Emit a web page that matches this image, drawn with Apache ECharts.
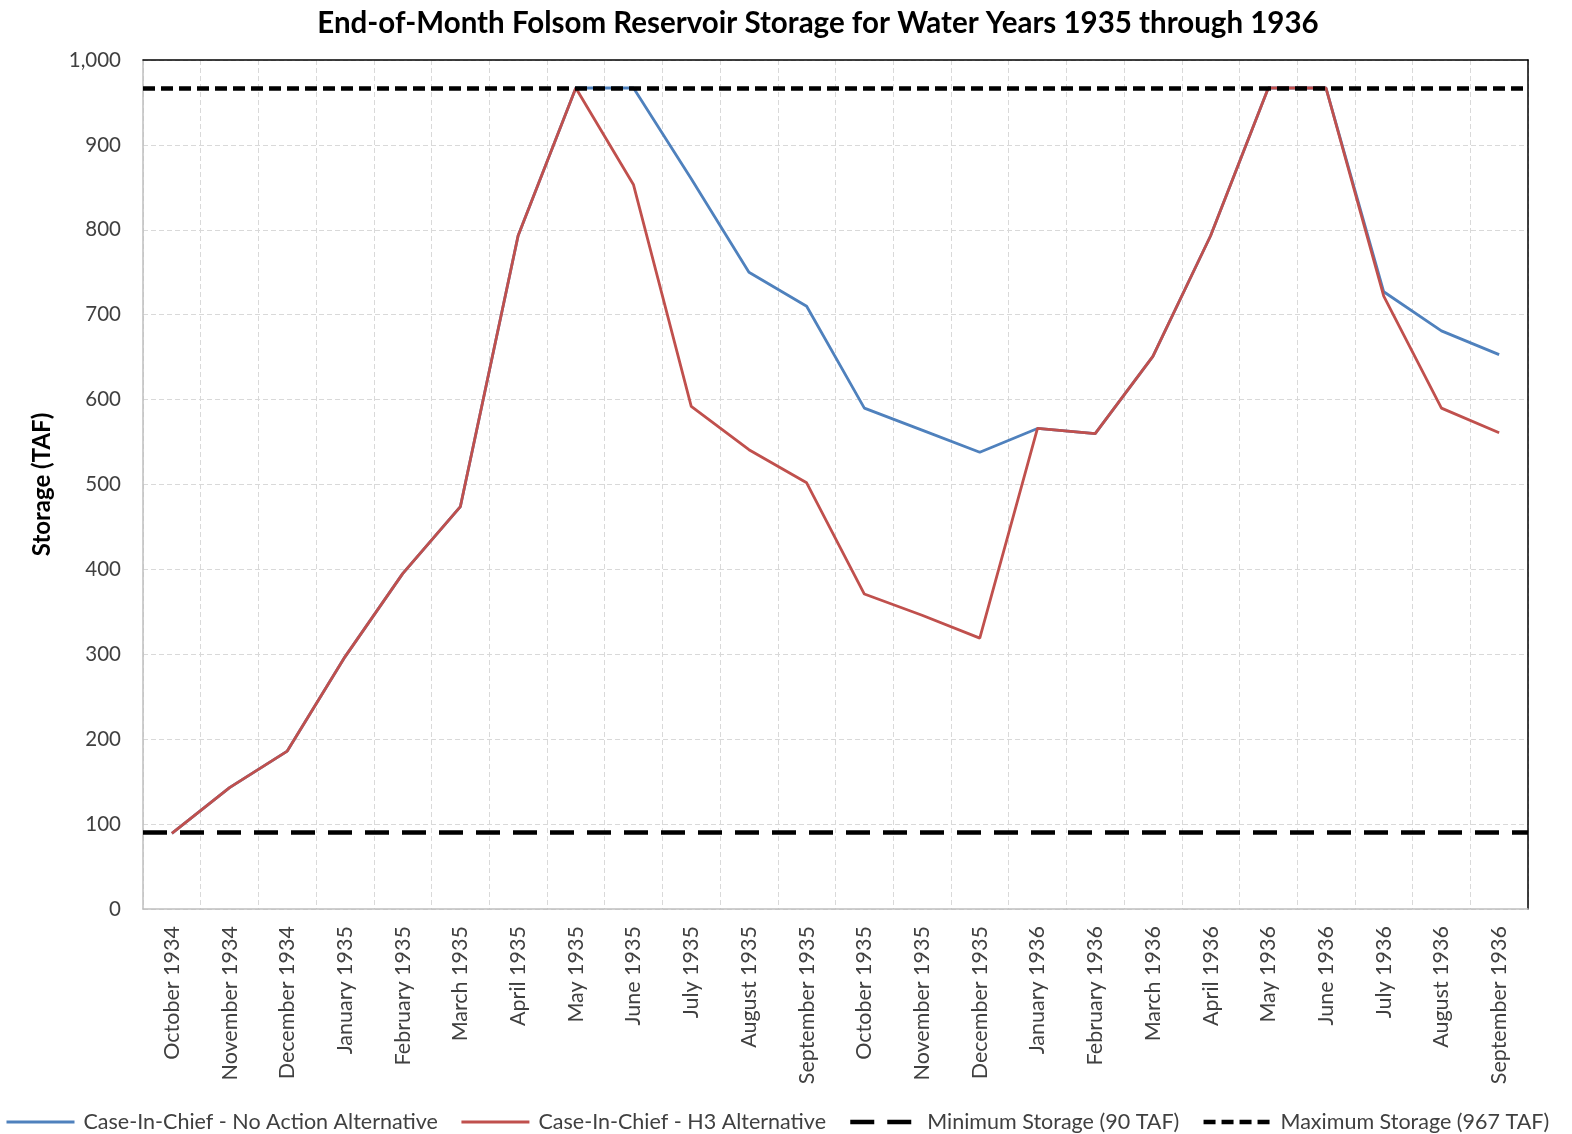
<!DOCTYPE html>
<html>
<head>
<meta charset="utf-8">
<script src="https://cdn.jsdelivr.net/npm/echarts@6/dist/echarts.min.js"></script>
<style>
  html, body { margin: 0; padding: 0; background: #fff; }
  #chartArea { width: 1572px; height: 1134px; }
</style>
</head>
<body>
<div id="chartArea"></div>
<script>
var months = [
    'October 1934', 'November 1934', 'December 1934', 'January 1935', 'February 1935', 'March 1935',
    'April 1935', 'May 1935', 'June 1935', 'July 1935', 'August 1935', 'September 1935',
    'October 1935', 'November 1935', 'December 1935', 'January 1936', 'February 1936', 'March 1936',
    'April 1936', 'May 1936', 'June 1936', 'July 1936', 'August 1936', 'September 1936'
];
// Case-In-Chief - No Action Alternative (TAF)
var noAction = [89, 143, 186, 297, 395, 474, 793, 967, 967, 860, 750, 710,
                590, 564, 538, 566, 560, 651, 793, 967, 967, 727, 681, 653];
// Case-In-Chief - H3 Alternative (TAF)
var h3 = [89, 143, 186, 297, 395, 474, 793, 967, 853, 592, 541, 502,
          371, 346, 319, 566, 560, 651, 793, 967, 967, 722, 590, 561];
var minStorage = 90;
var maxStorage = 967;

var FONT = 'Lato';
var MIN_DASH = [24, 13];
var MAX_DASH = [12, 6];

var myChart = echarts.init(document.getElementById('chartArea'));

function limitSeries(name, value, dash, width) {
    return {
        name: name,
        type: 'line',
        data: [],
        symbol: 'none',
        z: 5,
        lineStyle: { color: '#000', width: width, type: dash, cap: 'butt' },
        itemStyle: { color: '#000' },
        markLine: {
            silent: true,
            symbol: 'none',
            label: { show: false },
            lineStyle: { color: '#000', width: width, type: dash, cap: 'butt' },
            data: [{ yAxis: value }]
        }
    };
}

function legendItem(name, color, dash, width) {
    return {
        name: name,
        itemStyle: { opacity: 0 },
        lineStyle: { color: color, width: width, type: dash, cap: 'butt' }
    };
}

var hiddenAxis = {
    axisTick: { show: false },
    axisLabel: { show: false },
    splitLine: { show: false },
    axisLine: { show: true, onZero: false, lineStyle: { color: '#000', width: 1.5 } }
};

var option = {
    backgroundColor: '#fff',
    animation: false,
    textStyle: { fontFamily: FONT },
    title: {
        text: 'End-of-Month Folsom Reservoir Storage for Water Years 1935 through 1936',
        left: 813,
        top: 3,
        textAlign: 'center',
        textStyle: { fontFamily: FONT, fontWeight: 'bold', fontSize: 29.5, color: '#000' }
    },
    grid: {
        left: 143,
        right: 44,
        top: 60,
        bottom: 225
    },
    legend: {
        left: 5,
        top: 1111,
        padding: 0,
        itemWidth: 68,
        itemHeight: 14,
        itemGap: 22,
        textStyle: { fontFamily: FONT, fontSize: 21.5, color: '#404040', padding: [0, 0, 0, 4] },
        data: [
            legendItem('Case-In-Chief - No Action Alternative', '#4F81BD', 'solid', 3),
            legendItem('Case-In-Chief - H3 Alternative', '#C0504D', 'solid', 3),
            legendItem('Minimum Storage (90 TAF)', '#000', MIN_DASH, 4.5),
            legendItem('Maximum Storage (967 TAF)', '#000', MAX_DASH, 4.5)
        ]
    },
    xAxis: [
        {
            type: 'category',
            boundaryGap: true,
            data: months,
            axisLine: { lineStyle: { color: '#bfbfbf', width: 1.5 } },
            axisTick: { show: false },
            axisLabel: {
                rotate: 90,
                interval: 0,
                margin: 17,
                fontFamily: FONT,
                fontSize: 21.5,
                color: '#404040'
            },
            splitLine: {
                show: true,
                interval: 0,
                lineStyle: { color: '#d9d9d9', type: [5, 3], width: 1 }
            }
        },
        Object.assign({ type: 'category', position: 'top', data: months }, hiddenAxis)
    ],
    yAxis: [
        {
            type: 'value',
            min: 0,
            max: 1000,
            interval: 100,
            name: 'Storage (TAF)',
            nameLocation: 'middle',
            nameGap: 89,
            nameTextStyle: { fontFamily: FONT, fontWeight: 'bold', fontSize: 24, color: '#000' },
            axisLine: { show: true, lineStyle: { color: '#bfbfbf', width: 1.5 } },
            axisTick: { show: false },
            axisLabel: {
                margin: 22,
                fontFamily: FONT,
                fontSize: 20.5,
                color: '#404040',
                formatter: function(v) { return echarts.format.addCommas(v); }
            },
            splitLine: {
                show: true,
                lineStyle: { color: '#d9d9d9', type: [5, 3], width: 1 }
            }
        },
        Object.assign({ type: 'value', position: 'right', min: 0, max: 1000, interval: 100 }, hiddenAxis)
    ],
    series: [
        {
            name: 'Case-In-Chief - No Action Alternative',
            type: 'line',
            data: noAction,
            symbol: 'none',
            z: 2,
            lineStyle: { color: '#4F81BD', width: 2.8 },
            itemStyle: { color: '#4F81BD' }
        },
        {
            name: 'Case-In-Chief - H3 Alternative',
            type: 'line',
            data: h3,
            symbol: 'none',
            z: 3,
            lineStyle: { color: '#C0504D', width: 2.8 },
            itemStyle: { color: '#C0504D' }
        },
        limitSeries('Minimum Storage (90 TAF)', minStorage, MIN_DASH, 4.5),
        limitSeries('Maximum Storage (967 TAF)', maxStorage, MAX_DASH, 4.5)
    ]
};

myChart.setOption(option);
</script>
</body>
</html>
